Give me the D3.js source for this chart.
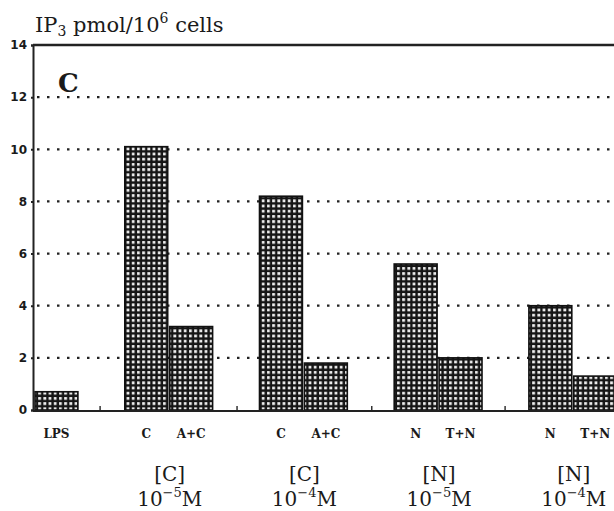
<!DOCTYPE html>
<html>
<head>
<meta charset="utf-8">
<script src="https://cdn.jsdelivr.net/npm/d3@7"></script>
<style>
	body { margin: 0; background: #fff; }
	svg { display: block; }
</style>
</head>
<body>
<main></main>
<script>
// bar data
const categories = ["LPS", "C", "A+C", "C", "A+C", "N", "T+N", "N", "T+N"];
const values = [0.7, 10.1, 3.2, 8.2, 1.8, 5.6, 2.0, 4.0, 1.3];
const slots = [0, 2, 3, 5, 6, 8, 9, 11, 12];

const groupLabels = ["[C]", "[C]", "[N]", "[N]"];
const groupExponents = ["\u22125", "\u22124", "\u22125", "\u22124"];
const groupSlots = [2, 5, 8, 11];
const separatorSlots = [1.45, 4.5, 7.5, 10.47];

const yTicks = [0, 2, 4, 6, 8, 10, 12, 14];
const gridTicks = [2, 4, 6, 8, 10, 12];

function drawChart() {
	const width = 614;
	const height = 511;

	const svg = d3.select("main")
		.append("svg")
		.attr("width", width)
		.attr("height", height);

	// cross-hatch fill used by every bar
	const pattern = svg.append("defs")
		.append("pattern")
		.attr("id", "grid")
		.attr("patternUnits", "userSpaceOnUse")
		.attr("width", 5.2)
		.attr("height", 5.2);
	pattern.append("rect")
		.attr("width", 5.2)
		.attr("height", 5.2)
		.attr("fill", "#151515");
	pattern.append("rect")
		.attr("x", 1.8)
		.attr("y", 1.8)
		.attr("width", 2.8)
		.attr("height", 2.8)
		.attr("fill", "#eeeeee");

	const xScale = d3.scaleLinear()
		.domain([0, 13])
		.range([35, 618.7]);

	const yScale = d3.scaleLinear()
		.domain([0, 14])
		.range([410, 45]);

	const axisLeftX = 33;

	// dotted gridlines
	svg.append("g")
		.selectAll("line")
		.data(gridTicks)
		.enter()
		.append("line")
		.attr("x1", 37)
		.attr("x2", width)
		.attr("y1", d => yScale(d))
		.attr("y2", d => yScale(d))
		.attr("stroke", "#222")
		.attr("stroke-width", 2.2)
		.attr("stroke-dasharray", "2.5,7.5");

	// bars
	const barW = xScale(1) - xScale(0) - 2;
	svg.append("g")
		.selectAll("rect")
		.data(values)
		.enter()
		.append("rect")
		.attr("x", (d, i) => xScale(slots[i]))
		.attr("y", d => yScale(d))
		.attr("width", barW)
		.attr("height", d => yScale(0) - yScale(d))
		.attr("fill", "url(#grid)")
		.attr("stroke", "#111")
		.attr("stroke-width", 1.6);

	// y axis
	const yAxis = svg.append("g")
		.attr("transform", `translate(${axisLeftX},0)`)
		.call(d3.axisLeft(yScale).tickValues(yTicks).tickSize(2).tickFormat(d3.format("d")));
	yAxis.select(".domain")
		.attr("stroke", "#222")
		.attr("stroke-width", 2);
	yAxis.selectAll(".tick line").attr("stroke", "#222").attr("stroke-width", 2);
	yAxis.selectAll(".tick text")
		.attr("x", -6)
		.style("font-family", "'DejaVu Sans', sans-serif")
		.style("font-weight", "bold")
		.style("font-size", "12px")
		.attr("fill", "#1a1a1a");

	// top frame and baseline
	svg.append("line")
		.attr("x1", axisLeftX).attr("x2", width)
		.attr("y1", yScale(14)).attr("y2", yScale(14))
		.attr("stroke", "#222").attr("stroke-width", 2.5);
	svg.append("line")
		.attr("x1", axisLeftX).attr("x2", width)
		.attr("y1", yScale(0) + 1).attr("y2", yScale(0) + 1)
		.attr("stroke", "#222").attr("stroke-width", 2);

	// small separator ticks on baseline
	svg.append("g")
		.selectAll("line")
		.data(separatorSlots)
		.enter()
		.append("line")
		.attr("x1", d => xScale(d)).attr("x2", d => xScale(d))
		.attr("y1", yScale(0) - 4).attr("y2", yScale(0))
		.attr("stroke", "#333").attr("stroke-width", 1.5);

	// bar labels
	svg.append("g")
		.selectAll("text")
		.data(categories)
		.enter()
		.append("text")
		.attr("x", (d, i) => xScale(slots[i]) + barW / 2)
		.attr("y", 438)
		.attr("text-anchor", "middle")
		.style("font-family", "'DejaVu Serif', serif")
		.style("font-weight", "bold")
		.style("font-size", "12px")
		.attr("fill", "#1a1a1a")
		.text(d => d);

	// group labels
	const groups = svg.append("g")
		.selectAll("g")
		.data(groupLabels)
		.enter()
		.append("g")
		.attr("transform", (d, i) => `translate(${xScale(groupSlots[i] + 1)},0)`)
		.style("font-family", "'DejaVu Serif', serif")
		.attr("fill", "#1a1a1a");
	groups.append("text")
		.attr("y", 481)
		.attr("text-anchor", "middle")
		.style("font-size", "20px")
		.text(d => d);
	const conc = groups.append("text")
		.attr("y", 506)
		.attr("text-anchor", "middle")
		.style("font-size", "20px");
	conc.append("tspan").text("10");
	conc.append("tspan")
		.attr("dy", -9)
		.style("font-size", "13px")
		.text((d, i) => groupExponents[i]);
	conc.append("tspan")
		.attr("dy", 9)
		.text("M");

	// y label
	const title = svg.append("text")
		.attr("x", 35)
		.attr("y", 32)
		.style("font-family", "'DejaVu Serif', serif")
		.style("font-size", "21px")
		.attr("fill", "#1a1a1a");
	title.append("tspan").text("IP");
	title.append("tspan").attr("dy", 4).style("font-size", "14px").text("3");
	title.append("tspan").attr("dy", -4).text(" pmol/10");
	title.append("tspan").attr("dy", -9).style("font-size", "14px").text("6");
	title.append("tspan").attr("dy", 9).text(" cells");

	// panel letter
	svg.append("text")
		.attr("x", 58)
		.attr("y", 92)
		.style("font-family", "'DejaVu Serif', serif")
		.style("font-weight", "bold")
		.style("font-size", "26px")
		.attr("fill", "#1a1a1a")
		.text("C");
}
drawChart();
</script>
</body>
</html>
